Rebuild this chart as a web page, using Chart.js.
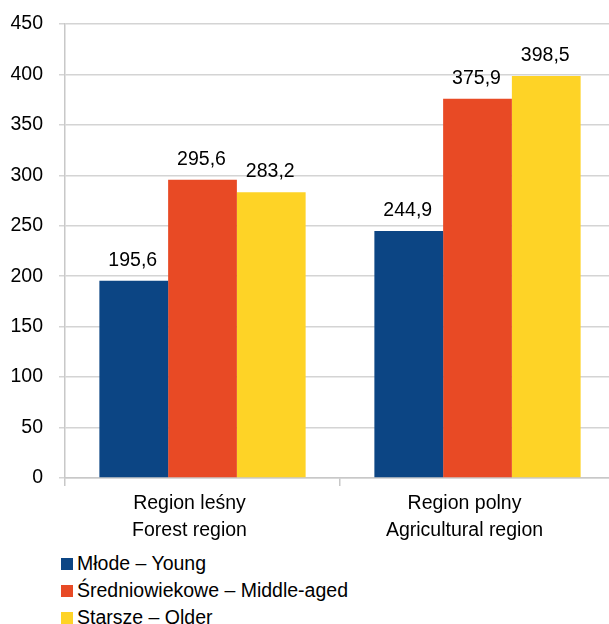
<!DOCTYPE html>
<html><head><meta charset="utf-8">
<script src="https://cdn.jsdelivr.net/npm/chart.js@4/dist/chart.umd.min.js"></script>
<style>
html,body{margin:0;padding:0;background:#fff;overflow:hidden;width:609px;height:624px;}
#wrap{position:relative;width:609px;height:624px;overflow:hidden;}
canvas{position:absolute;left:0;top:0;}
#legend{position:absolute;left:61px;top:550px;font-family:"Liberation Sans",Arial,sans-serif;font-size:19.5px;color:#000;}
.li{height:27px;display:flex;align-items:center;}
.bx{width:12px;height:12px;margin-right:4px;}
</style></head><body>
<div id="wrap"><canvas id="c" width="616" height="545"></canvas><div id="legend"></div></div>
<script>
const categories = [["Region leśny","Forest region"],["Region polny","Agricultural region"]];
const seriesNames = ["Młode – Young","Średniowiekowe – Middle-aged","Starsze – Older"];
const young = [195.6, 244.9];
const middle = [295.6, 375.9];
const older = [283.2, 398.5];
const colors = ["#0c4584","#e84a25","#fed326"];
const yTicks = [0,50,100,150,200,250,300,350,400,450];

const FONT = "Liberation Sans, Arial, sans-serif";
const valueLabels = {
  id:'valueLabels',
  afterDatasetsDraw(chart){
    const ctx = chart.ctx;
    ctx.save();
    ctx.font = "19.5px " + FONT;
    ctx.fillStyle = "#000";
    ctx.textAlign = "center";
    ctx.textBaseline = "alphabetic";
    chart.data.datasets.forEach((ds,i)=>{
      chart.getDatasetMeta(i).data.forEach((bar,j)=>{
        ctx.fillText(ds.data[j].toFixed(1).replace('.',','), bar.x - 1, bar.y - 15);
      });
    });
    ctx.restore();
  }
};

const chart = new Chart(document.getElementById('c'), {
  type:'bar',
  data:{
    labels: categories,
    datasets:[
      {label:seriesNames[0], data:young, backgroundColor:colors[0]},
      {label:seriesNames[1], data:middle, backgroundColor:colors[1]},
      {label:seriesNames[2], data:older, backgroundColor:colors[2]}
    ]
  },
  options:{
    responsive:false, animation:false, devicePixelRatio:1,
    layout:{padding:{top:24, right:1, left:0, bottom:0}},
    categoryPercentage:0.75, barPercentage:1,
    plugins:{legend:{display:false}, tooltip:{enabled:false}},
    scales:{
      y:{
        min:0, max:450,
        afterBuildTicks(s){ s.ticks = yTicks.map(v=>({value:v})); },
        afterFit(s){ s.width = 65; s.paddingTop = 0; s.paddingBottom = 0; },
        ticks:{font:{family:FONT,size:19.5}, color:"#000", padding:16},
        grid:{color:"#d4d4d4", lineWidth:1.5, tickLength:6},
        border:{color:"#c8c8c8", width:1.5}
      },
      x:{
        afterFit(s){ s.height = 545-478; s.paddingLeft = 0; s.paddingRight = 0; },
        ticks:{font:{family:FONT,size:19.5,lineHeight:1.38}, color:"#000", padding:4, labelOffset:-13},
        grid:{drawOnChartArea:false, offset:true, color:"#c8c8c8", lineWidth:1.5, tickLength:8},
        border:{color:"#c8c8c8", width:1.5}
      }
    }
  },
  plugins:[valueLabels]
});

const lg = document.getElementById('legend');
seriesNames.forEach((n,i)=>{
  const d = document.createElement('div'); d.className='li';
  const b = document.createElement('div'); b.className='bx'; b.style.background=colors[i];
  d.appendChild(b); d.appendChild(document.createTextNode(n)); lg.appendChild(d);
});
</script></body></html>
